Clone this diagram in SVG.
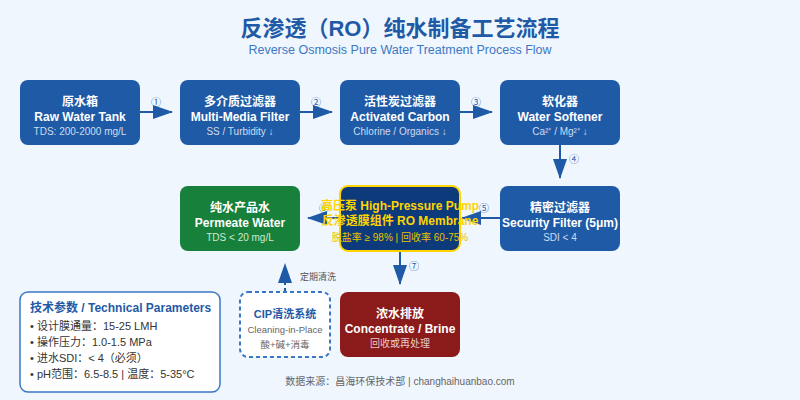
<svg xmlns="http://www.w3.org/2000/svg" width="800" height="400" viewBox="0 0 800 400">
<defs>
<style>
text{font-family:"Liberation Sans","Noto Sans CJK SC",sans-serif;text-anchor:middle}
.t{fill:#fff;font-size:12px;font-weight:bold}
.s{fill:#cfdcf0;font-size:10px}
.n{fill:#1f5aa6;font-size:10px}
.c{stroke:#1f5aa6;stroke-width:2;fill:none}
</style>
<marker id="a" markerWidth="10" markerHeight="10" refX="9" refY="5" orient="auto" markerUnits="userSpaceOnUse" viewBox="0 0 10 10"><path d="M0,0L10,5L0,10z" fill="#1f5aa6"/></marker>
<marker id="b" markerWidth="20" markerHeight="14" refX="19" refY="7" orient="auto" markerUnits="userSpaceOnUse"><path d="M0,0L20,7L0,14z" fill="#1f5aa6"/></marker>
</defs>
<rect width="800" height="400" fill="#f0f6fe"/>
<text x="400" y="36" font-size="22" font-weight="bold" fill="#1f5aa6">反渗透（RO）纯水制备工艺流程</text>
<text x="400" y="54" font-size="12.5" fill="#3a78c4">Reverse Osmosis Pure Water Treatment Process Flow</text>
<g id="connectors">
<path class="c" d="M140,112H172" marker-end="url(#b)"/>
<path class="c" d="M300,112H332" marker-end="url(#b)"/>
<path class="c" d="M460,112H492" marker-end="url(#b)"/>
<path class="c" d="M560,145V178" marker-end="url(#b)"/>
<path class="c" d="M500,218H462" marker-end="url(#b)"/>
<path class="c" d="M340,218H308" marker-end="url(#b)"/>
<path class="c" d="M400,251V284" marker-end="url(#b)"/>
<path class="c" d="M285,292V264" stroke-dasharray="4,3" marker-end="url(#b)"/>
<text class="n" x="156" y="106">①</text><text class="n" x="316" y="106">②</text><text class="n" x="476" y="106">③</text>
<text class="n" x="574" y="163">④</text><text class="n" x="484" y="212">⑤</text><text class="n" x="324" y="212">⑥</text>
<text class="n" x="414" y="270">⑦</text>
<text x="318" y="280" font-size="9" fill="#555">定期清洗</text>
</g>
<g id="n1"><rect x="20" y="80" width="120" height="65" rx="8" fill="#1f5aa6"/><text class="t" x="80" y="106">原水箱</text><text class="t" x="80" y="121">Raw Water Tank</text><text class="s" x="80" y="135">TDS: 200-2000 mg/L</text></g>
<g id="n2"><rect x="180" y="80" width="120" height="65" rx="8" fill="#1f5aa6"/><text class="t" x="240" y="106">多介质过滤器</text><text class="t" x="240" y="121">Multi-Media Filter</text><text class="s" x="240" y="135">SS / Turbidity ↓</text></g>
<g id="n3"><rect x="340" y="80" width="120" height="65" rx="8" fill="#1f5aa6"/><text class="t" x="400" y="106">活性炭过滤器</text><text class="t" x="400" y="121">Activated Carbon</text><text class="s" x="400" y="135">Chlorine / Organics ↓</text></g>
<g id="n4"><rect x="500" y="80" width="120" height="65" rx="8" fill="#1f5aa6"/><text class="t" x="560" y="106">软化器</text><text class="t" x="560" y="121">Water Softener</text><text class="s" x="560" y="135">Ca²⁺ / Mg²⁺ ↓</text></g>
<g id="n5"><rect x="500" y="186" width="120" height="65" rx="8" fill="#1f5aa6"/><text class="t" x="560" y="212">精密过滤器</text><text class="t" x="560" y="227">Security Filter (5μm)</text><text class="s" x="560" y="241">SDI &lt; 4</text></g>
<g id="n6"><rect x="340" y="186" width="120" height="65" rx="8" fill="#0d3a7a" stroke="#ffd400" stroke-width="2"/><text class="t" x="400" y="210" fill="#ffd400" style="fill:#ffd400">高压泵 High-Pressure Pump</text><text class="t" x="400" y="225" style="fill:#ffd400">反渗透膜组件 RO Membrane</text><text class="s" x="400" y="241" style="fill:#e8c200">脱盐率 ≥ 98% | 回收率 60-75%</text></g>
<g id="n7"><rect x="180" y="186" width="120" height="65" rx="8" fill="#17803a"/><text class="t" x="240" y="212">纯水产品水</text><text class="t" x="240" y="227">Permeate Water</text><text class="s" x="240" y="241" style="fill:#cfe8d6">TDS &lt; 20 mg/L</text></g>
<g id="n8"><rect x="240" y="292" width="90" height="65" rx="8" fill="#fff" stroke="#3a78c4" stroke-width="2" stroke-dasharray="4,3"/><text x="285" y="318" font-size="11" font-weight="bold" fill="#1f5aa6">CIP清洗系统</text><text x="285" y="333" font-size="9.5" fill="#666">Cleaning-in-Place</text><text x="285" y="348" font-size="9.5" fill="#666">酸+碱+消毒</text></g>
<g id="n9"><rect x="340" y="292" width="120" height="65" rx="8" fill="#8b1a1a"/><text class="t" x="400" y="318">浓水排放</text><text class="t" x="400" y="333">Concentrate / Brine</text><text class="s" x="400" y="347" style="fill:#e8c8c8">回收或再处理</text></g>
<g id="params"><rect x="20" y="292" width="200" height="100" rx="8" fill="#fff" stroke="#3a78c4" stroke-width="1.5"/>
<text x="30" y="312" font-size="12" font-weight="bold" fill="#1f5aa6" style="text-anchor:start">技术参数 / Technical Parameters</text>
<g font-size="11" fill="#333" style="text-anchor:start"><text x="30" y="330" style="text-anchor:start">• 设计膜通量：15-25 LMH</text><text x="30" y="346" style="text-anchor:start">• 操作压力：1.0-1.5 MPa</text><text x="30" y="362" style="text-anchor:start">• 进水SDI：&lt; 4（必须）</text><text x="30" y="378" style="text-anchor:start">• pH范围：6.5-8.5 | 温度：5-35°C</text></g></g>
<text x="400" y="385" font-size="10" fill="#666">数据来源：昌海环保技术部 | changhaihuanbao.com</text>
</svg>
